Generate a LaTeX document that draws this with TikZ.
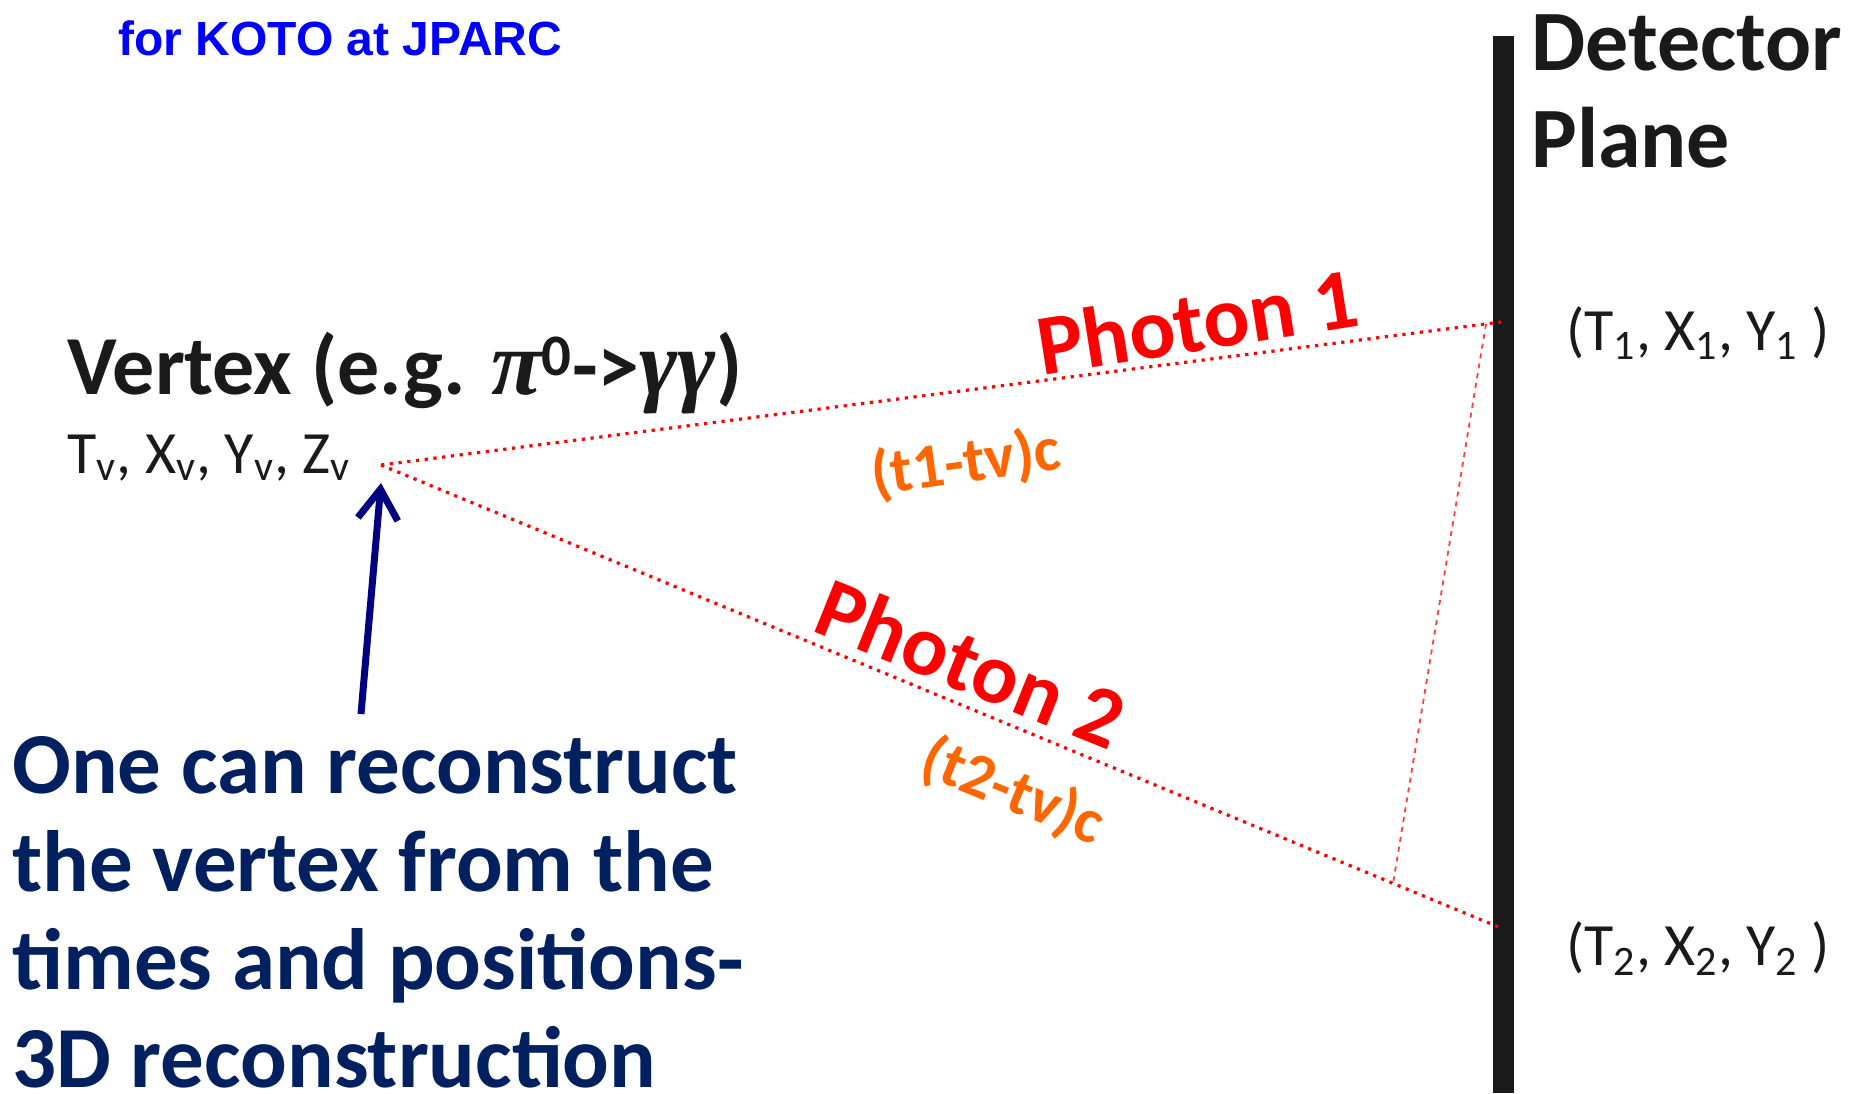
\documentclass[tikz,border=0pt]{standalone}
\usepackage{fontspec}
\setmainfont{Carlito}
\newfontfamily\arialfont{Liberation Sans}
\newfontfamily\greekfont{Liberation Serif}
\usetikzlibrary{arrows.meta,calc}
\definecolor{koto}{RGB}{0,0,255}
\definecolor{navytext}{RGB}{0,32,96}
\definecolor{navyarrow}{RGB}{0,0,128}
\definecolor{tof}{RGB}{255,102,0}
\definecolor{ink}{RGB}{26,26,26}

\begin{document}
\begin{tikzpicture}[x=0.5pt,y=-0.5pt,
  photon/.style={red, line width=1.6pt, dash pattern=on 1.6pt off 2.8pt},
  guide/.style={red!75, line width=0.9pt, dash pattern=on 2.5pt off 2.5pt},
  plabel/.style={red, font=\fontsize{43}{52}\selectfont\bfseries, inner sep=0pt},
  tlabel/.style={tof, font=\fontsize{31.5}{38}\selectfont\bfseries, inner sep=0pt},
  hitlabel/.style={ink, font=\fontsize{30}{36}\selectfont, anchor=base west, inner sep=0pt}]
\useasboundingbox (0,0) rectangle (1856,1093);

% Title
\node[koto, font=\arialfont\fontsize{24}{29}\selectfont\bfseries, anchor=base west, inner sep=0pt] (title) at (118,55) {for KOTO at JPARC};

% Detector plane
\draw[ink, line width=10.5pt] (1503,36) -- (1503,1093);
\node[ink, font=\fontsize{43}{48.5}\selectfont\bfseries, align=left, anchor=north west, inner sep=0pt] (detname) at (1531,14) {Detector\\Plane};

% Vertex
\coordinate (vtx) at (381,465);
\node[ink, font=\fontsize{42}{50}\selectfont\bfseries, anchor=base west, inner sep=0pt] (vtxname) at (67,394) {Vertex (e.g. {\greekfont\itshape\fontsize{46}{50}\selectfont π}\textsuperscript{0}->{\greekfont\itshape\fontsize{46}{50}\selectfont γγ})};
\node[ink, font=\fontsize{30}{36}\selectfont, anchor=base west, inner sep=0pt] (vtxcoord) at (67,473) {T\textsubscript{v}, X\textsubscript{v}, Y\textsubscript{v}, Z\textsubscript{v}};

% Hits on the plane
\coordinate (hit1) at (1501,322);
\coordinate (hit2) at (1501,928);
\node[hitlabel] (hit1label) at (1566,350) {(T\textsubscript{1}, X\textsubscript{1}, Y\textsubscript{1} )};
\node[hitlabel] (hit2label) at (1566,965) {(T\textsubscript{2}, X\textsubscript{2}, Y\textsubscript{2} )};

% Photon paths
\draw[photon] (vtx) -- (hit1);
\draw[photon] (vtx) -- (hit2);
\coordinate (foot1) at ($(vtx)!0.9866!(hit1)$);
\coordinate (foot2) at ($(vtx)!0.9036!(hit2)$);
\draw[guide] (foot1) -- (foot2);

% Labels on the paths
\node[plabel, rotate=9] (ph1) at (1197,321) {Photon 1};
\node[tlabel, rotate=8] (dt1) at (966,464) {(t1-tv)c};
\node[plabel, rotate=-22] (ph2) at (971,663) {Photon 2};
\node[tlabel, rotate=-22] (dt2) at (1013,792) {(t2-tv)c};

% Note
\node[navytext, font=\fontsize{43.5}{49}\selectfont\bfseries, align=left, anchor=north west, inner sep=0pt] (note) at (12,736) {One can reconstruct\\the vertex from the\\times and positions-\\3D reconstruction};
\coordinate (arrowtail) at (361,714);
\coordinate (arrowtip) at (381,483);
\draw[navyarrow, line width=3.5pt, -{Straight Barb[length=15pt,width=20pt]}] (arrowtail) -- (arrowtip);
\end{tikzpicture}
\end{document}
